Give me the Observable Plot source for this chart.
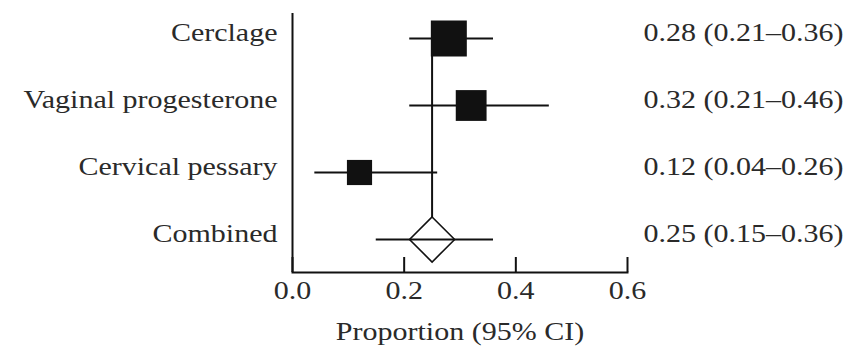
<!DOCTYPE html>
<html><head><meta charset="utf-8">
<script src="https://cdn.jsdelivr.net/npm/d3@7"></script>
<script src="https://cdn.jsdelivr.net/npm/@observablehq/plot@0.6"></script>
<style>body{margin:0;background:#fff} svg text{font-family:"Liberation Serif","Times New Roman",Times,serif !important;}</style>
</head><body><div id="chart"></div>
<script>
const groups = ["Cerclage", "Vaginal progesterone", "Cervical pessary", "Combined"];
const estimates = [0.28, 0.32, 0.12, 0.25];
const lower = [0.21, 0.21, 0.04, 0.15];
const upper = [0.36, 0.46, 0.26, 0.36];
const weights = [45, 33, 22, null];
const estimateLabels = ["0.28 (0.21\u20130.36)", "0.32 (0.21\u20130.46)", "0.12 (0.04\u20130.26)", "0.25 (0.15\u20130.36)"];
const xTicks = [0, 0.2, 0.4, 0.6];
const xLabel = "Proportion (95% CI)";
const pooled = 0.25;

const rows = groups.map((g, i) => ({group: g, est: estimates[i], lo: lower[i], hi: upper[i], w: weights[i], label: estimateLabels[i]}));
const studies = rows.filter(d => d.w != null);
const combined = rows.filter(d => d.w == null);
const ink = "#111";
const textInk = "#2a2a2a";

const chart = Plot.plot({
  width: 850,
  height: 347,
  marginLeft: 292,
  marginRight: 223,
  marginTop: 13,
  marginBottom: 75,
  style: {fontFamily: "\"Liberation Serif\", \"Times New Roman\", serif", fontSize: "25px", background: "#fff", color: textInk},
  x: {domain: [0, 0.6], label: null},
  y: {type: "point", domain: groups, padding: 0, insetTop: 25, insetBottom: 33, axis: null},
  r: {type: "sqrt", domain: [0, 45], range: [0, 20.3]},
  marks: [
    Plot.ruleX([{x: pooled, y1: groups[0], y2: groups[groups.length - 1]}], {x: "x", y1: "y1", y2: "y2", stroke: ink, strokeWidth: 2}),
    Plot.dot(combined, {x: "est", y: "group", symbol: "diamond2", r: 20.3, fill: "white", stroke: ink, strokeWidth: 1.6}),
    Plot.ruleY(rows, {y: "group", x1: "lo", x2: "hi", stroke: ink, strokeWidth: 2}),
    Plot.dot(studies, {x: "est", y: "group", symbol: "square", r: "w", fill: ink, stroke: null}),
    Plot.ruleX([0], {stroke: ink, strokeWidth: 2}),
    Plot.frame({anchor: "bottom", stroke: ink, strokeWidth: 2}),
    Plot.axisX({ticks: xTicks, tickFormat: d3.format(".1f"), tickSize: -15, tickPadding: 24, stroke: ink, strokeWidth: 2, fill: textInk, label: null}),
    Plot.text(rows, {y: "group", text: "group", frameAnchor: "left", textAnchor: "end", dx: -15, lineAnchor: "bottom", dy: 2.5, fill: textInk}),
    Plot.text(rows, {y: "group", text: "label", frameAnchor: "right", textAnchor: "start", dx: 16, lineAnchor: "bottom", dy: 2.5, fill: textInk}),
    Plot.text([xLabel], {text: d => d, frameAnchor: "bottom", lineAnchor: "bottom", dy: 67, fill: textInk})
  ]
});
document.getElementById("chart").append(chart);
// widen the serif glyphs to match the reference's broad typeface
chart.querySelectorAll("text").forEach(t => {
  const len = t.getComputedTextLength();
  if (len > 0) {
    t.setAttribute("textLength", (len * 1.2).toFixed(1));
    t.setAttribute("lengthAdjust", "spacingAndGlyphs");
  }
});
</script>
</body></html>
